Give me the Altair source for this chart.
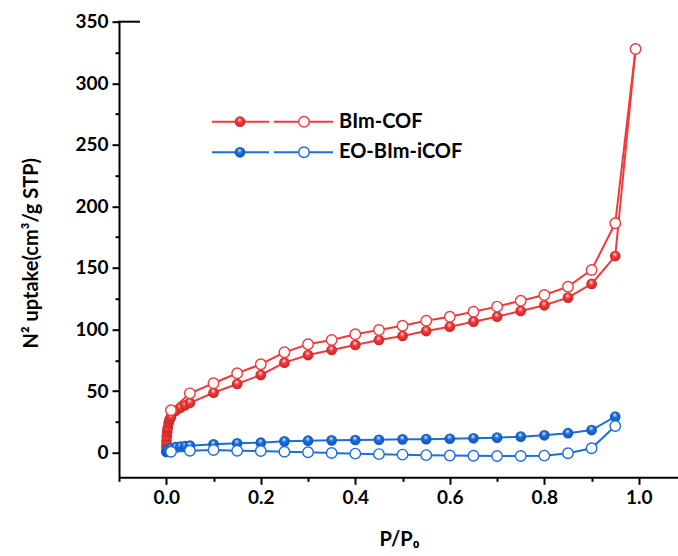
import altair as alt
import pandas as pd

# N2 sorption isotherms (77 K): relative pressure P/P0 and uptake (cm3/g STP)
bim_ads_p = [0.0002, 0.0005, 0.001, 0.002, 0.003, 0.005, 0.007, 0.01, 0.02, 0.03, 0.04, 0.05,
             0.10, 0.15, 0.20, 0.25, 0.30, 0.35, 0.40, 0.45, 0.50, 0.55, 0.60, 0.65, 0.70,
             0.75, 0.80, 0.85, 0.90, 0.95, 0.993]
bim_ads_v = [5.0, 9.0, 13.0, 17.0, 20.0, 24.0, 27.0, 29.0, 34.0, 36.5, 38.5, 40.5,
             48.7, 55.8, 63.1, 73.1, 79.3, 83.4, 87.5, 91.5, 94.8, 98.8, 102.3, 106.4, 110.4,
             115.1, 119.7, 125.9, 137.0, 159.7, 327.8]

bim_des_p = [0.993, 0.95, 0.90, 0.85, 0.80, 0.75, 0.70, 0.65, 0.60, 0.55, 0.50, 0.45, 0.40,
             0.35, 0.30, 0.25, 0.20, 0.15, 0.10, 0.05, 0.01]
bim_des_v = [327.8, 186.3, 148.4, 134.8, 128.1, 123.4, 118.6, 114.5, 110.4, 107.2, 103.1, 99.6,
             96.2, 91.5, 88.0, 81.5, 71.8, 64.5, 56.4, 48.2, 34.4]

eo_ads_p = [0.0002, 0.001, 0.003, 0.01, 0.02, 0.03, 0.04, 0.05, 0.10, 0.15, 0.20, 0.25, 0.30,
            0.35, 0.40, 0.45, 0.50, 0.55, 0.60, 0.65, 0.70, 0.75, 0.80, 0.85, 0.90, 0.95]
eo_ads_v = [0.5, 1.5, 2.5, 3.6, 4.5, 5.0, 5.3, 5.7, 6.8, 7.6, 8.1, 9.2, 9.7,
            10.0, 10.3, 10.5, 10.8, 11.0, 11.3, 11.7, 12.2, 13.0, 14.1, 15.8, 18.4, 29.2]

eo_des_p = [0.95, 0.90, 0.85, 0.80, 0.75, 0.70, 0.65, 0.60, 0.55, 0.50, 0.45, 0.40, 0.35,
            0.30, 0.25, 0.20, 0.15, 0.10, 0.05, 0.01]
eo_des_v = [21.7, 3.6, -0.5, -2.4, -2.7, -2.7, -2.5, -2.3, -2.0, -1.6, -1.2, -0.8, -0.3,
            0.3, 0.8, 1.4, 1.6, 2.2, 1.6, 0.8]

series_names = ["BIm-COF", "EO-BIm-iCOF"]
x_ticks = [-0.1, 0.0, 0.1, 0.2, 0.3, 0.4, 0.5, 0.6, 0.7, 0.8, 0.9, 1.0]
y_ticks = [0, 25, 50, 75, 100, 125, 150, 175, 200, 225, 250, 275, 300, 325, 350]

RED = "#ef3b3b"
RED_DARK = "#c81e1e"
BLUE = "#1c6edc"
BLUE_DARK = "#0f4fb0"
FONT = "Lato"

W, H = 559, 455.6


def frame(p, v):
    return pd.DataFrame({"p": p, "v": v, "i": list(range(len(p)))})


def ball(base, dark):
    return alt.RadialGradient(
        gradient="radial", x1=0.45, y1=0.3, r1=0.0, x2=0.5, y2=0.5, r2=0.6,
        stops=[alt.GradientStop(offset=0.0, color="#ffffff"),
               alt.GradientStop(offset=0.35, color=base),
               alt.GradientStop(offset=1.0, color=dark)])


x_axis = alt.Axis(
    values=x_ticks, title="P/P₀",
    labelExpr="round(datum.value*10) % 2 == 0 ? format(datum.value, '.1f') : ''",
    tickSize={"condition": {"test": "round(datum.value*10) % 2 == 0", "value": 7}, "value": 4},
    tickWidth=2, tickColor="black", domainWidth=2, domainColor="black", grid=False,
    labelFont=FONT, labelFontSize=19, labelFontWeight="bold", labelColor="black", labelPadding=4,
    titleFont=FONT, titleFontSize=20, titleFontWeight="bold", titleColor="black",
    titleX=280, titleY=62, titleBaseline="middle", labelFlush=False,
)
y_axis = alt.Axis(
    values=y_ticks, title="N² uptake(cm³/g STP)",
    labelExpr="datum.value % 50 == 0 ? datum.label : ''",
    tickSize={"condition": {"test": "datum.value % 50 == 0", "value": 7}, "value": 4},
    tickWidth=2, tickColor="black", domainWidth=2, domainColor="black", grid=False,
    labelFont=FONT, labelFontSize=19, labelFontWeight="bold", labelColor="black", labelPadding=4,
    titleFont=FONT, titleFontSize=20, titleFontWeight="bold", titleColor="black",
    titleX=-88, titleY=231, titleBaseline="middle", titleAngle=-90, labelFlush=False,
)
xs = alt.Scale(domain=[-0.1, 1.0828], nice=False, zero=False)
ys = alt.Scale(domain=[-20, 350], nice=False, zero=False)
X = alt.X("p:Q", scale=xs, axis=x_axis)
Y = alt.Y("v:Q", scale=ys, axis=y_axis)


def branch(p, v, color, dark, hollow):
    base = alt.Chart(frame(p, v)).encode(x=X, y=Y, order=alt.Order("i:Q"))
    line = base.mark_line(color=color, strokeWidth=2)
    if hollow:
        pts = base.mark_point(shape="circle", filled=True, fill="white", stroke=color,
                              strokeWidth=1.4, size=110, opacity=1)
    else:
        pts = base.mark_point(shape="circle", filled=True, fill=ball(color, dark),
                              strokeWidth=0, size=115, opacity=1)
    return [line, pts]


layers = []
layers += branch(bim_ads_p, bim_ads_v, RED, RED_DARK, False)
layers += branch(bim_des_p, bim_des_v, RED, RED_DARK, True)
layers += branch(eo_ads_p, eo_ads_v, BLUE, BLUE_DARK, False)
layers += branch(eo_des_p, eo_des_v, BLUE, BLUE_DARK, True)

# legend: line-symbol-line-symbol key followed by the series name
one = pd.DataFrame({"k": [0]})
for row, (name, color, dark) in enumerate(zip(series_names, [RED, BLUE], [RED_DARK, BLUE_DARK])):
    ly = 100 + 30.6 * row
    for a, b in [(93, 150), (155, 214)]:
        layers.append(alt.Chart(one).mark_rule(color=color, strokeWidth=2).encode(
            x=alt.value(a), x2=alt.value(b), y=alt.value(ly)))
    layers.append(alt.Chart(one).mark_point(shape="circle", filled=True, fill=ball(color, dark),
                                            strokeWidth=0, size=115, opacity=1).encode(
        x=alt.value(121), y=alt.value(ly)))
    layers.append(alt.Chart(one).mark_point(shape="circle", filled=True, fill="white", stroke=color,
                                            strokeWidth=1.4, size=110, opacity=1).encode(
        x=alt.value(185), y=alt.value(ly)))
    layers.append(alt.Chart(one).mark_text(align="left", baseline="middle", font=FONT, fontSize=20,
                                           fontWeight="bold", color="black", text=name).encode(
        x=alt.value(220), y=alt.value(ly)))

# short cap at the top of the left spine
layers.append(alt.Chart(one).mark_rule(color="black", strokeWidth=2).encode(
    x=alt.value(-1), x2=alt.value(21), y=alt.value(0)))

chart = alt.layer(*layers).properties(
    width=W, height=H,
    autosize=alt.AutoSizeParams(type="none"),
    padding={"left": 119, "top": 21.7, "right": 0, "bottom": 78.7},
    background="white",
).configure_view(strokeWidth=0)

chart.save("out.html", embed_options={"renderer": "svg", "actions": False})
